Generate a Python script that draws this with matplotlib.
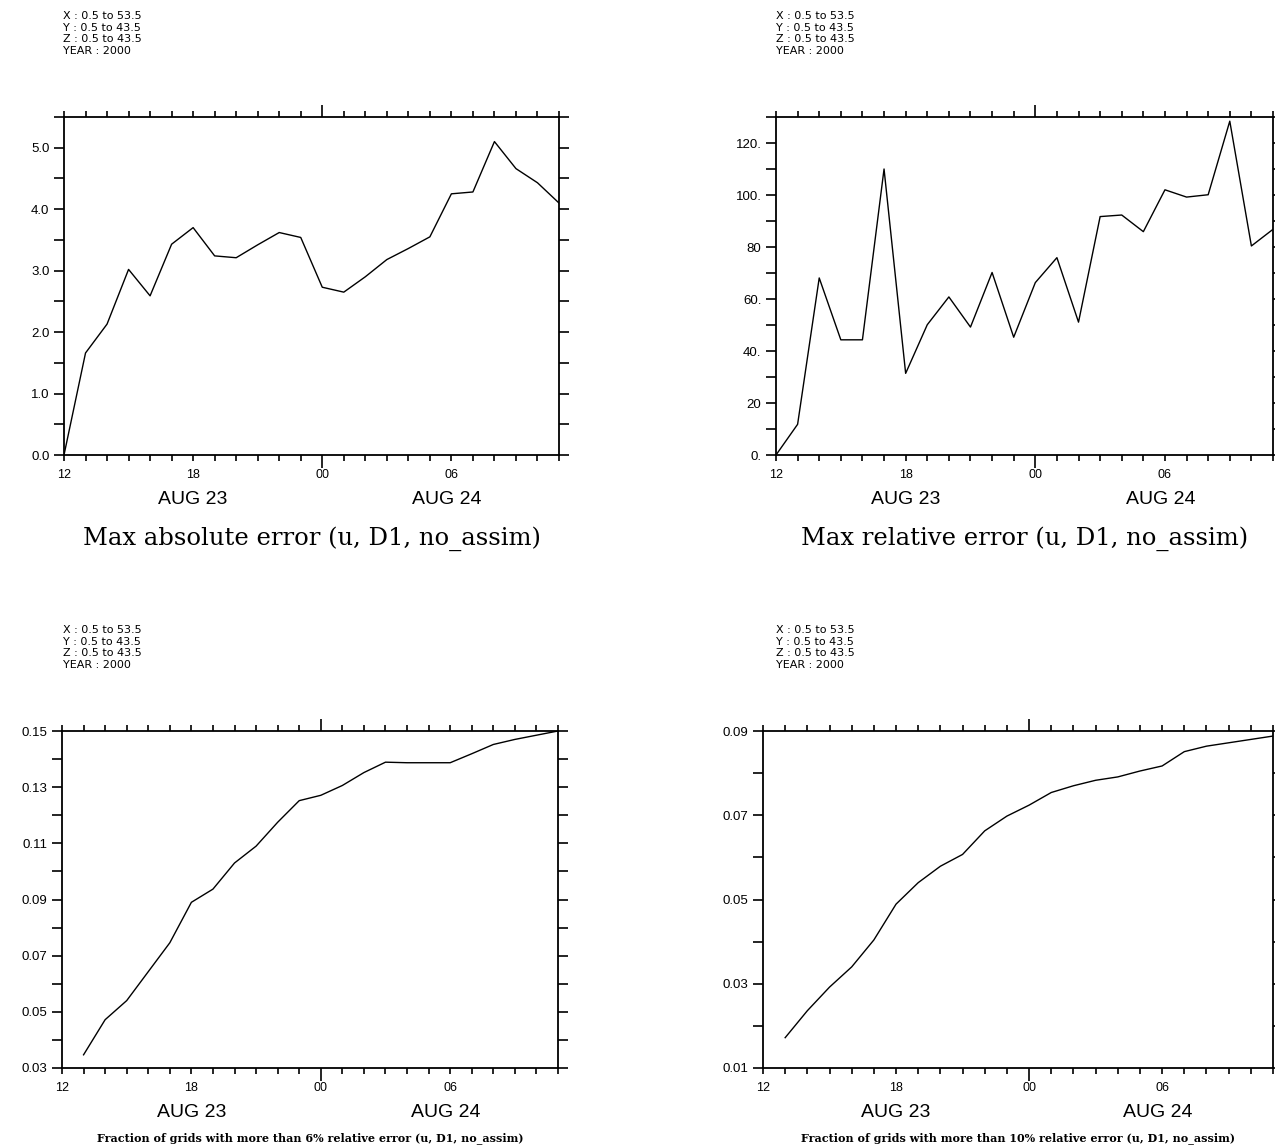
import numpy as np
import matplotlib
matplotlib.use("Agg")
import matplotlib.pyplot as plt
from matplotlib.ticker import MultipleLocator, FixedLocator

# hours after 12Z AUG 23 (hourly output)
hours = list(range(24))
hour_labels = {0: "12", 6: "18", 12: "00", 18: "06"}
day_labels = {6: "AUG 23", 17.8: "AUG 24"}

max_abs_err = [0.0, 1.66, 2.13, 3.02, 2.59, 3.43, 3.70, 3.24, 3.21, 3.42, 3.62, 3.54,
               2.73, 2.65, 2.90, 3.18, 3.36, 3.55, 4.25, 4.28, 5.10, 4.66, 4.43, 4.10]

max_rel_err = [0.0, 11.8, 68.1, 44.3, 44.3, 110.0, 31.4, 50.1, 60.8, 49.2, 70.2, 45.3,
               66.3, 75.9, 51.1, 91.7, 92.3, 85.9, 102.0, 99.2, 100.1, 128.4, 80.4, 86.8]

# fraction of grids, starts at hour 1
frac_hours = hours[1:]
frac_6pct = [0.0347, 0.0472, 0.0540, 0.0643, 0.0746, 0.0890, 0.0937, 0.1030, 0.1090,
             0.1175, 0.1252, 0.1271, 0.1306, 0.1352, 0.1389, 0.1387, 0.1387, 0.1387,
             0.1419, 0.1452, 0.1470, 0.1485, 0.1500]
frac_10pct = [0.0172, 0.0236, 0.0292, 0.0340, 0.0404, 0.0489, 0.0540, 0.0579, 0.0607,
              0.0663, 0.0698, 0.0724, 0.0754, 0.0770, 0.0783, 0.0791, 0.0805, 0.0817,
              0.0851, 0.0864, 0.0872, 0.0880, 0.0888]

header = "X : 0.5 to 53.5\nY : 0.5 to 43.5\nZ : 0.5 to 43.5\nYEAR : 2000"

W, H = 1275, 1147
fig = plt.figure(figsize=(W / 100, H / 100), dpi=100)


def px_axes(l, t, r, b):
    return fig.add_axes([l / W, 1 - b / H, (r - l) / W, (b - t) / H])


def style(ax, ylim, ymajor, yminor, ylabels):
    ax.set_xlim(0, 23)
    ax.set_ylim(*ylim)
    for s in ax.spines.values():
        s.set_linewidth(1.3)
    # x: hourly minor ticks, long tick at day boundary (00)
    ax.xaxis.set_major_locator(FixedLocator([12]))
    ax.set_xticklabels(["00"])
    ax.xaxis.set_minor_locator(FixedLocator(hours))
    ax.set_xticklabels([hour_labels.get(h, "") for h in hours], minor=True)
    ax.tick_params(axis="x", which="minor", direction="out", length=4.5, width=1.2,
                   top=True, pad=5.5, labelsize=9)
    ax.tick_params(axis="x", which="major", direction="out", length=9, width=1.2,
                   top=True, pad=1, labelsize=9)
    ax.yaxis.set_major_locator(FixedLocator(ymajor))
    ax.set_yticklabels(ylabels)
    ax.yaxis.set_minor_locator(MultipleLocator(yminor))
    ax.tick_params(axis="y", which="both", direction="out", length=7.5, width=1.2,
                   right=True, pad=3, labelsize=9.5)
    for lab in ax.get_xticklabels(which="both") + ax.get_yticklabels():
        lab.set_family("Liberation Sans")
    for h, txt in day_labels.items():
        ax.annotate(txt, xy=(h, 0), xycoords=("data", "axes fraction"),
                    xytext=(0, -26), textcoords="offset points",
                    ha="center", va="top", fontsize=14, family="Liberation Sans")


# top left
ax1 = px_axes(64, 117, 559, 455)
ax1.plot(hours, max_abs_err, color="black", lw=1.0)
style(ax1, (0, 5.5), [0, 1, 2, 3, 4, 5], 0.5, ["0.0", "1.0", "2.0", "3.0", "4.0", "5.0"])
ax1.text(0.5, -0.21, "Max absolute error (u, D1, no_assim)", transform=ax1.transAxes,
         ha="center", va="top", fontsize=17.5, family="DejaVu Serif")

# top right
ax2 = px_axes(776, 117, 1273, 455)
ax2.plot(hours, max_rel_err, color="black", lw=1.0)
style(ax2, (0, 130), [0, 20, 40, 60, 80, 100, 120], 10,
      ["0.", "20", "40.", "60.", "80", "100.", "120."])
ax2.text(0.5, -0.21, "Max relative error (u, D1, no_assim)", transform=ax2.transAxes,
         ha="center", va="top", fontsize=17.5, family="DejaVu Serif")

# bottom left
ax3 = px_axes(62, 731, 558, 1068)
ax3.plot(frac_hours, frac_6pct, color="black", lw=1.0)
style(ax3, (0.03, 0.15), [0.03, 0.05, 0.07, 0.09, 0.11, 0.13, 0.15], 0.01,
      ["0.03", "0.05", "0.07", "0.09", "0.11", "0.13", "0.15"])
ax3.text(0.5, -0.19, "Fraction of grids with more than 6% relative error (u, D1, no_assim)",
         transform=ax3.transAxes, ha="center", va="top", fontsize=8,
         family="DejaVu Serif", fontweight="bold")

# bottom right
ax4 = px_axes(763, 731, 1273, 1068)
ax4.plot(frac_hours, frac_10pct, color="black", lw=1.0)
style(ax4, (0.01, 0.09), [0.01, 0.03, 0.05, 0.07, 0.09], 0.01,
      ["0.01", "0.03", "0.05", "0.07", "0.09"])
ax4.text(0.5, -0.19, "Fraction of grids with more than 10% relative error (u, D1, no_assim)",
         transform=ax4.transAxes, ha="center", va="top", fontsize=8,
         family="DejaVu Serif", fontweight="bold")

# data-set headers
for x, y in [(63, 11), (776, 11), (63, 625), (776, 625)]:
    fig.text(x / W, 1 - y / H, header, ha="left", va="top", fontsize=8,
             family="DejaVu Sans", linespacing=1.2)

fig.savefig("out.png", dpi=100)
